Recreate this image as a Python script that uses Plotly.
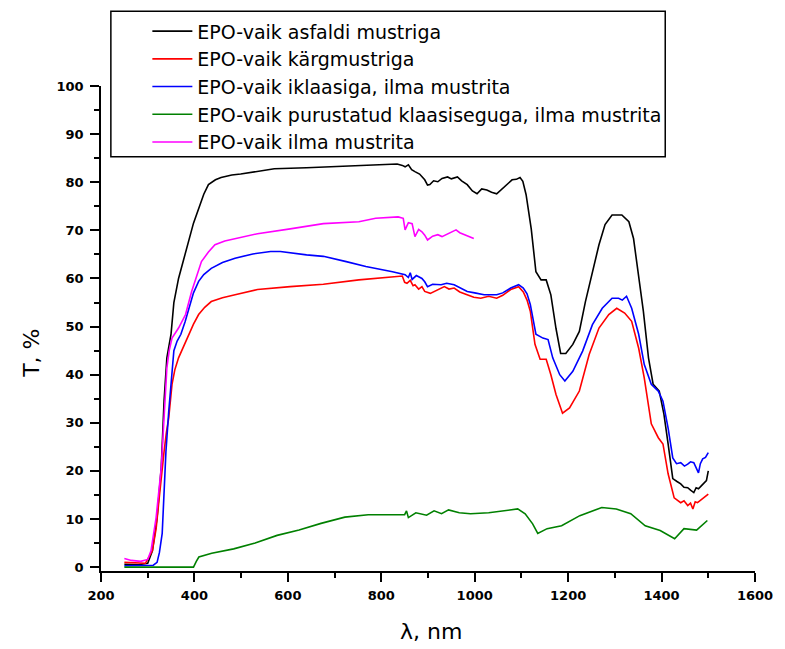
import plotly.graph_objects as go

# Transmission spectra, wavelength (nm) vs transmittance (%)
wl_asfalt = [250, 280, 300, 310, 320, 329, 335, 341, 350, 356, 366, 377, 388, 398, 409, 420, 430, 445, 457, 480,
             499, 540, 571, 640, 683, 773, 834, 845, 851, 858, 865, 872, 882, 893, 899, 904, 912, 921, 930, 942,
             950, 963, 972, 984, 995, 1005, 1015, 1026, 1036, 1047, 1058, 1068, 1080, 1089, 1097, 1103, 1110, 1121,
             1131, 1142, 1153, 1163, 1174, 1184, 1195, 1210, 1224, 1237, 1252, 1266, 1279, 1294, 1315, 1330, 1340,
             1351, 1361, 1372, 1382, 1395, 1405, 1414, 1420, 1424, 1433, 1441, 1448, 1456, 1462, 1469, 1474, 1479,
             1485, 1490, 1496, 1500]
t_asfalt = [0.6, 0.5, 0.8, 3.4, 10.3, 20.7, 34.5, 43.5, 48.5, 55, 60, 64, 67.7, 71.5, 74.5, 77.5, 79.5, 80.5, 81, 81.5,
            81.7, 82.3, 82.8, 83, 83.2, 83.6, 83.8, 83.5, 83.2, 83.6, 82.6, 82.2, 81.7, 80.5, 79.4, 79.5, 80.3, 80.1,
            80.8, 81.1, 80.7, 81.1, 80.3, 79.5, 78.2, 77.6, 78.6, 78.4, 77.9, 77.6, 78.5, 79.5, 80.5, 80.6, 81, 80.2,
            77.4, 70.3, 61.4, 59.7, 59.7, 56.6, 49.6, 44.4, 44.4, 46.3, 49, 55.2, 61.4, 67, 71.2, 73.2, 73.2, 71.8,
            68.3, 60, 53.2, 43.5, 38, 36.6, 31.8, 25.6, 20.7, 18.4, 17.8, 17.3, 16.6, 16.5, 16.0, 15.5, 16.5, 16.3,
            16.9, 17.5, 18.0, 20]

wl_karg = [250, 270, 295, 310, 318, 324, 330, 335, 340, 345, 352, 358, 366, 377, 388, 398, 409, 422, 436, 460, 487,
           535, 605, 676, 752, 845, 850, 855, 862, 868, 872, 880, 887, 893, 905, 914, 925, 935, 945, 956, 968, 984,
           998, 1013, 1030, 1047, 1060, 1077, 1094, 1104, 1112, 1119, 1129, 1140, 1153, 1163, 1174, 1188, 1203,
           1224, 1245, 1266, 1287, 1304, 1321, 1336, 1351, 1363, 1378, 1393, 1403, 1414, 1427, 1441, 1448, 1456,
           1462, 1467, 1472, 1477, 1484, 1490, 1500]
t_karg = [1.0, 0.9, 0.8, 3.4, 8, 13.8, 20, 24, 28, 31, 38, 41, 43.5, 46, 48.4, 50.5, 52.5, 54, 55.2, 56, 56.6,
          57.7, 58.3, 58.8, 59.7, 60.5, 59.2, 59.0, 59.6, 58.5, 58.7, 57.8, 58.3, 57.3, 56.9, 57.3, 57.9, 58.3, 57.8,
          58, 57.2, 56.6, 56.1, 55.9, 56.3, 55.9, 56.5, 57.7, 58.3, 57.2, 55.5, 53.2, 46.3, 43.2, 43.2, 40, 35.9, 32,
          33.1, 36.6, 44.2, 49.7, 52.5, 53.8, 52.8, 51.1, 45.5, 39.3, 29.8, 26.9, 25.6, 19.4, 14.4, 13.4, 13.8,
          12.8, 13.3, 12.1, 13.6, 13.4, 14.0, 14.4, 15.2]

wl_klaas = [250, 290, 312, 320, 325, 331, 335, 339, 345, 350, 356, 363, 371, 380, 388, 398, 409, 420, 436, 460, 487,
            525, 563, 584, 640, 676, 725, 767, 824, 851, 858, 862, 866, 875, 887, 893, 899, 910, 928, 940, 956, 970,
            984, 1000, 1020, 1047, 1060, 1077, 1094, 1104, 1112, 1119, 1131, 1146, 1157, 1167, 1182, 1193, 1210,
            1231, 1252, 1273, 1294, 1308, 1316, 1325, 1336, 1351, 1363, 1378, 1393, 1403, 1414, 1424, 1432, 1441,
            1449, 1456, 1462, 1469, 1474, 1479, 1483, 1488, 1494, 1500]
t_klaas = [0.3, 0.3, 0.4, 1, 3, 7, 15, 24, 32.4, 39, 45, 47, 48.4, 51, 53.8, 57, 59.4, 60.8, 62.1, 63.3, 64.2,
           65.1, 65.6, 65.6, 64.9, 64.6, 63.5, 62.5, 61.4, 60.8, 60.2, 61.2, 59.8, 60.6, 60.0, 59.3, 58.3, 58.8,
           58.7, 59.0, 58.7, 58.0, 57.3, 57.0, 56.6, 56.6, 57.0, 58.0, 58.7, 58, 56.8, 54.6, 48.4, 47.6, 47.3, 43.5,
           40, 38.7, 40.7, 44.9, 50.4, 53.8, 55.9, 55.9, 55.5, 56.3, 53.8, 48.4, 42.1, 38, 36.6, 34.5, 28.9, 22.7,
           21.5, 21.7, 21.0, 21.4, 21.9, 21.7, 20.8, 19.6, 21.5, 22.5, 22.8, 23.8]

wl_purust = [250, 398, 404, 409.5, 437, 484, 530, 577, 624, 671, 722, 772, 850, 854, 858, 874, 897, 913, 929, 944,
             967, 991, 1030, 1069, 1092, 1108, 1124, 1135, 1155, 1186, 1225, 1272, 1303, 1334, 1365, 1397, 1428,
             1448, 1475, 1498]
t_purust = [0, 0, 1.2, 2.1, 2.9, 3.8, 5.0, 6.6, 7.7, 9.1, 10.4, 10.9, 10.9, 11.7, 10.3, 11.3, 10.8, 11.7, 11.1, 11.9,
            11.3, 11.1, 11.3, 11.9, 12.1, 11.1, 9.0, 7.0, 8.0, 8.6, 10.7, 12.4, 12.1, 11.1, 8.6, 7.6, 5.9,
            8.0, 7.7, 9.7]

wl_ilma = [250, 265, 285, 300, 307, 318, 329, 335, 341, 346, 352, 366, 381, 394, 404, 415, 430, 444, 465, 487, 535,
           605, 676, 752, 788, 836, 847, 851, 858, 866, 872, 880, 887, 893, 899, 910, 921, 930, 942, 950, 960, 968,
           977, 988, 998]
t_ilma = [1.8, 1.4, 1.2, 1.6, 3.4, 10.3, 20.7, 31, 41.4, 45, 47.6, 49.7, 52.5, 57.3, 60.5, 63.5, 65.5, 67, 67.8,
          68.3, 69.3, 70.3, 71.4, 71.8, 72.5, 72.8, 72.5, 70.1, 71.6, 71.4, 68.7, 70.2, 69.7, 69.0, 68.0, 68.8,
          69.1, 68.7, 69.3, 69.6, 70.1, 69.5, 69.1, 68.6, 68.3]

series = [
    ("EPO-vaik asfaldi mustriga", wl_asfalt, t_asfalt, "#000000"),
    ("EPO-vaik kärgmustriga", wl_karg, t_karg, "#ff0000"),
    ("EPO-vaik iklaasiga, ilma mustrita", wl_klaas, t_klaas, "#0000ff"),
    ("EPO-vaik purustatud klaasiseguga, ilma mustrita", wl_purust, t_purust, "#008000"),
    ("EPO-vaik ilma mustrita", wl_ilma, t_ilma, "#ff00ff"),
]

FONT = "DejaVu Sans"

fig = go.Figure()
for i, (name, x, y, color) in enumerate(series):
    fig.add_trace(go.Scatter(
        x=x, y=y, name=name, mode="lines", legendgroup=f"g{i}",
        line=dict(color=color, width=1.6),
    ))

# plot area in pixels: left 101, right 764, top 84, bottom 571
L, R, T, B = 101, 764, 84, 571
W, H = 785, 649
pw, ph = R - L, B - T

def px(xp):
    return (xp - L) / pw

def py(yp):
    return (B - yp) / ph

tickfont = dict(family=FONT, size=13, color="black", weight="bold")

fig.update_layout(
    width=W, height=H, autosize=False,
    margin=dict(l=L, r=W - R, t=T, b=H - B),
    paper_bgcolor="white", plot_bgcolor="white",
    font=dict(family=FONT, color="black"),
    showlegend=True,
    legend=dict(
        x=px(148), y=py(10), xanchor="left", yanchor="top",
        bgcolor="rgba(0,0,0,0)", borderwidth=0,
        font=dict(family=FONT, size=19, color="black"),
        tracegroupgap=0, itemwidth=40,
    ),
    xaxis=dict(
        range=[200, 1600], tickvals=[200, 400, 600, 800, 1000, 1200, 1400, 1600],
        showgrid=False, zeroline=False, showline=True, linecolor="black", linewidth=1.5,
        ticks="outside", ticklen=9, tickwidth=1.5, tickcolor="black",
        tickfont=tickfont, ticklabelstandoff=3,
        minor=dict(dtick=100, ticks="outside", ticklen=5, tickwidth=1.5, tickcolor="black"),
    ),
    yaxis=dict(
        range=[-0.8, 100], tickvals=[0, 10, 20, 30, 40, 50, 60, 70, 80, 90, 100],
        showgrid=False, zeroline=False, showline=True, linecolor="black", linewidth=1.5,
        ticks="outside", ticklen=9, tickwidth=1.5, tickcolor="black",
        tickfont=tickfont, ticklabelstandoff=4,
        minor=dict(dtick=5, ticks="outside", ticklen=5, tickwidth=1.5, tickcolor="black"),
    ),
    shapes=[dict(
        type="rect", xref="paper", yref="paper",
        x0=px(111), x1=px(673), y0=py(155), y1=py(9),
        line=dict(color="black", width=1.5), fillcolor="rgba(0,0,0,0)",
    )],
    annotations=[
        dict(text="T, %", xref="paper", yref="paper", x=px(31), y=py(352),
             xanchor="center", yanchor="middle",
             showarrow=False, textangle=-90, font=dict(family=FONT, size=22)),
        dict(text="λ, nm", xref="paper", yref="paper", x=px(436), y=py(632),
             xanchor="center", yanchor="middle",
             showarrow=False, font=dict(family=FONT, size=22)),
    ],
)

fig.write_html("out.html", config={"responsive": False},
               default_width=f"{W}px", default_height=f"{H}px")
